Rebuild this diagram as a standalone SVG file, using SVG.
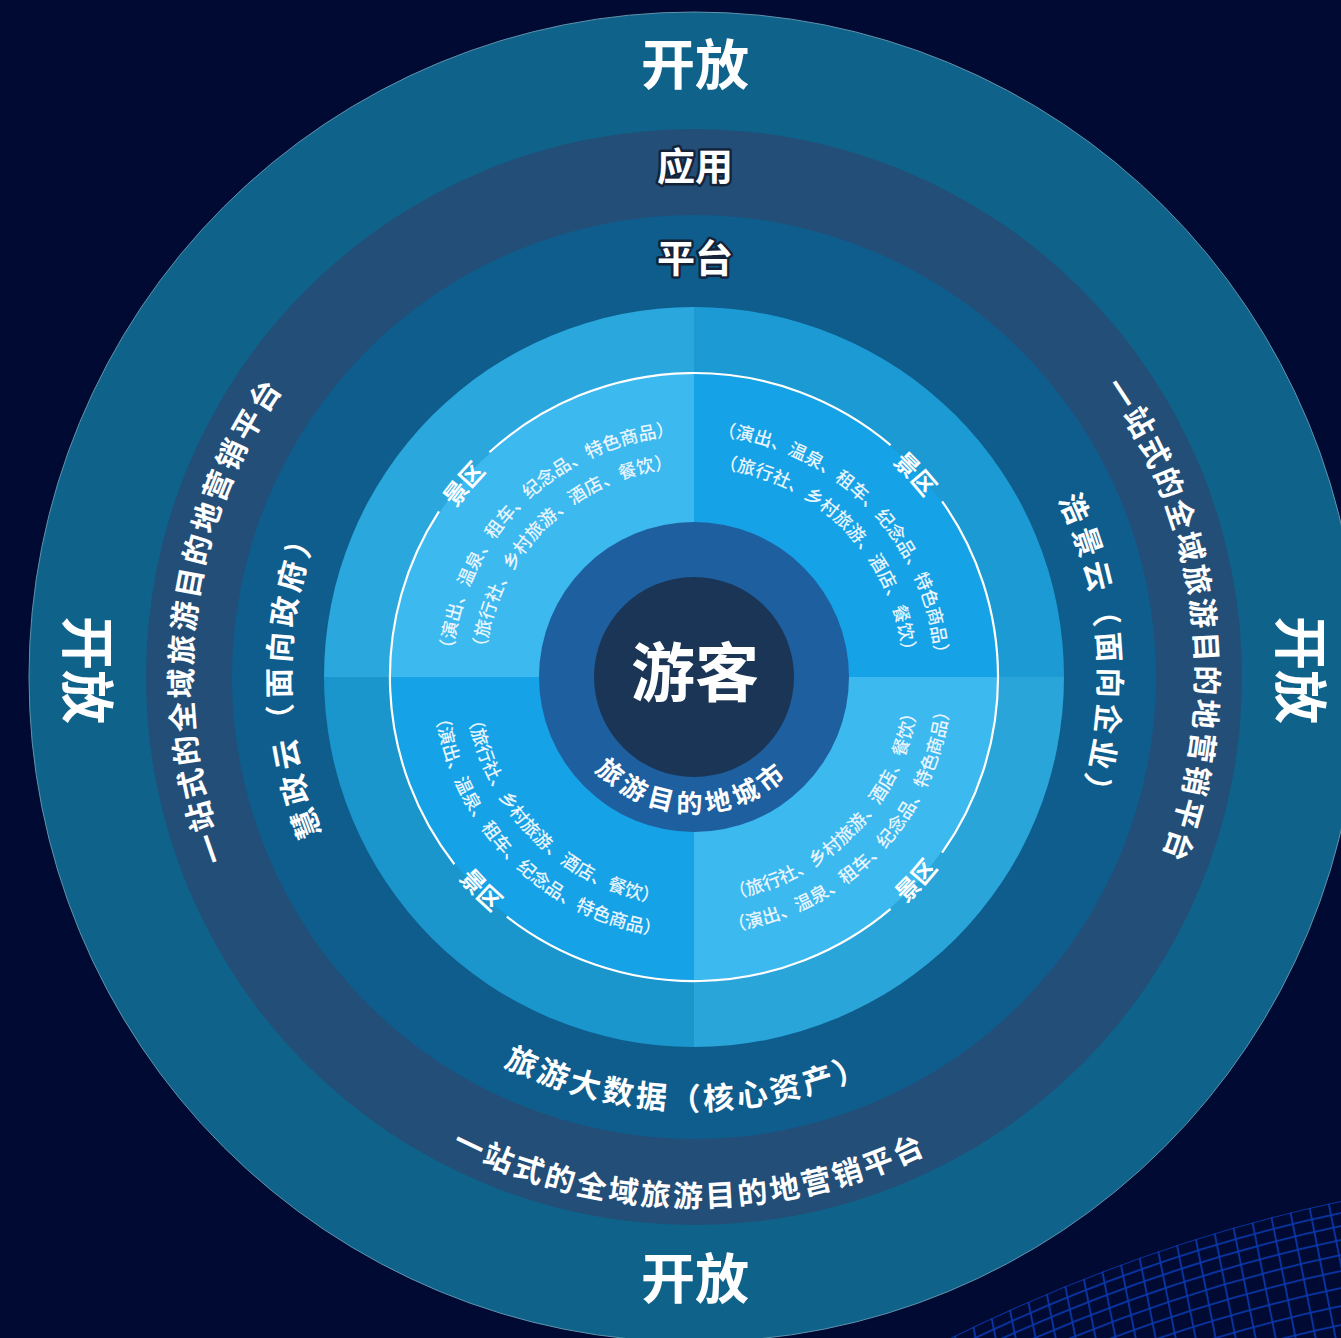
<svg xmlns="http://www.w3.org/2000/svg" width="1341" height="1338" viewBox="0 0 1341 1338">
<style>
.t{font-family:"Noto Sans CJK SC","Noto Sans",sans-serif;fill:#fff;font-weight:700;}
.big{font-size:54px;}
.lbl{font-size:38px;stroke:#14233a;stroke-width:5px;paint-order:stroke;stroke-linejoin:round;}
.ring{font-size:30px;letter-spacing:3px;}
.plat{font-size:30px;letter-spacing:5px;}
.data{font-size:31px;letter-spacing:3.5px;}
.q{font-size:18px;font-weight:500;fill:#e8f5ff;}
.jq{font-size:24px;}
.city{font-size:26px;letter-spacing:5px;}
.grid{fill:none;stroke:#0a3aae;stroke-width:2;stroke-opacity:0.85;}
</style>
<defs>
<path id="pL1" d="M391.9 1077.9 A502 502 0 0 1 497.9 214.9"/>
<path id="pR1" d="M890.1 214.9 A502 502 0 0 1 996.1 1077.9"/>
<path id="pB1" d="M232.7 938 A530 530 0 0 0 1150.6 946"/>
<path id="pL2" d="M495.1 1028.6 A404 404 0 0 1 489 328.9"/>
<path id="pR2" d="M872.8 313.6 A405 405 0 0 1 919.3 1013.6"/>
<path id="pB2" d="M315.3 886.9 A433 433 0 0 0 1065.2 900"/>
<path id="pTLo" d="M460.2 739.6 A242 242 0 0 1 756.6 443.2"/>
<path id="pTLi" d="M491.2 731.3 A210 210 0 0 1 748.3 474.2"/>
<path id="pTRo" d="M635.5 442.2 A242 242 0 0 1 926.6 743.7"/>
<path id="pTRi" d="M643.2 473.2 A210 210 0 0 1 895.9 734.9"/>
<path id="pBLo" d="M441.9 609.5 A261 261 0 0 0 761.5 929.1"/>
<path id="pBLi" d="M472.8 617.7 A229 229 0 0 0 753.3 898.2"/>
<path id="pBRo" d="M631.8 926.4 A257 257 0 0 0 941.1 606.2"/>
<path id="pBRi" d="M639.6 895.3 A225 225 0 0 0 910.3 615"/>
<path id="pJ1" d="M419.6 776.9 A292 292 0 0 1 744.7 389.4"/>
<path id="pJ2" d="M630.8 391.9 A292 292 0 0 1 972.5 764.8"/>
<path id="pJ3" d="M394.6 596.8 A310 310 0 0 0 774.2 976.4"/>
<path id="pJ4" d="M626.9 979.7 A310 310 0 0 0 989.6 583.8"/>
<path id="pCity" d="M575.1 742.9 A136 136 0 0 0 810.6 747"/>
<clipPath id="gridClip"><path d="M800 1420 Q1100 1240 1400 1190 L1400 1400 Z"/></clipPath>
</defs>

<rect id="background" x="0" y="0" width="1341" height="1338" fill="#010a33"/>

<g id="grid-decoration" clip-path="url(#gridClip)">
<g class="grid">
<path d="M800 1420 Q1100 1240 1400 1190"/>
<path d="M800 1432 Q1100 1252 1400 1202"/>
<path d="M800 1445 Q1100 1265 1400 1215"/>
<path d="M800 1459 Q1100 1279 1400 1229"/>
<path d="M800 1474 Q1100 1294 1400 1244"/>
<path d="M800 1490 Q1100 1310 1400 1260"/>
<path d="M800 1507 Q1100 1327 1400 1277"/>
<path d="M800 1525 Q1100 1345 1400 1295"/>
<path d="M800 1544 Q1100 1364 1400 1314"/>
<path d="M800 1564 Q1100 1384 1400 1334"/>
<path d="M900 1160 L940 1360"/>
<path d="M920 1160 L960 1360"/>
<path d="M940 1160 L980 1360"/>
<path d="M960 1160 L1000 1360"/>
<path d="M980 1160 L1020 1360"/>
<path d="M1000 1160 L1040 1360"/>
<path d="M1020 1160 L1060 1360"/>
<path d="M1040 1160 L1080 1360"/>
<path d="M1060 1160 L1100 1360"/>
<path d="M1080 1160 L1120 1360"/>
<path d="M1100 1160 L1140 1360"/>
<path d="M1120 1160 L1160 1360"/>
<path d="M1140 1160 L1180 1360"/>
<path d="M1160 1160 L1200 1360"/>
<path d="M1180 1160 L1220 1360"/>
<path d="M1200 1160 L1240 1360"/>
<path d="M1220 1160 L1260 1360"/>
<path d="M1240 1160 L1280 1360"/>
<path d="M1260 1160 L1300 1360"/>
<path d="M1280 1160 L1320 1360"/>
<path d="M1300 1160 L1340 1360"/>
<path d="M1320 1160 L1360 1360"/>
</g>
</g>

<g id="ring-open">
<circle cx="694" cy="677" r="665" fill="#0f6289" stroke="#5f93ad" stroke-width="1"/>
<text class="t big" x="695" y="84.5" text-anchor="middle">开放</text>
<text class="t big" x="695" y="1298.5" text-anchor="middle">开放</text>
<text class="t big" transform="translate(87 670) rotate(90)" x="0" y="20.5" text-anchor="middle">开放</text>
<text class="t big" transform="translate(1300 670) rotate(90)" x="0" y="20.5" text-anchor="middle">开放</text>
</g>

<g id="ring-application">
<circle cx="694" cy="677" r="548" fill="#234e77"/>
<text class="t lbl" x="695" y="179.5" text-anchor="middle">应用</text>
<text class="t ring"><textPath href="#pL1" startOffset="50%" text-anchor="middle">一站式的全域旅游目的地营销平台</textPath></text>
<text class="t ring"><textPath href="#pR1" startOffset="50%" text-anchor="middle">一站式的全域旅游目的地营销平台</textPath></text>
<text class="t ring"><textPath href="#pB1" startOffset="50%" text-anchor="middle">一站式的全域旅游目的地营销平台</textPath></text>
</g>

<g id="ring-platform">
<circle cx="694" cy="677" r="462" fill="#0f5d8d"/>
<text class="t lbl" x="695" y="272" text-anchor="middle">平台</text>
<text class="t plat"><textPath href="#pL2" startOffset="50%" text-anchor="middle">慧政云（面向政府）</textPath></text>
<text class="t plat"><textPath href="#pR2" startOffset="50%" text-anchor="middle">浩景云（面向企业）</textPath></text>
<text class="t data"><textPath href="#pB2" startOffset="50%" text-anchor="middle">旅游大数据（核心资产）</textPath></text>
</g>

<g id="quadrants">
<path d="M694 677 L324 677 A370 370 0 0 1 694 307 Z" fill="#2aa7dc"/>
<path d="M694 677 L694 307 A370 370 0 0 1 1064 677 Z" fill="#1c9ad3"/>
<path d="M694 677 L1064 677 A370 370 0 0 1 694 1047 Z" fill="#2aa5d9"/>
<path d="M694 677 L694 1047 A370 370 0 0 1 324 677 Z" fill="#1b96cd"/>
<path d="M694 677 L391 677 A303 303 0 0 1 694 374 Z" fill="#3cb9ef"/>
<path d="M694 677 L694 374 A303 303 0 0 1 997 677 Z" fill="#16a2e7"/>
<path d="M694 677 L997 677 A303 303 0 0 1 694 980 Z" fill="#3cb9ef"/>
<path d="M694 677 L694 980 A303 303 0 0 1 391 677 Z" fill="#16a2e7"/>
<g fill="none" stroke="#ffffff" stroke-width="2.2">
<path d="M489.4 452.2 A304 304 0 0 1 890.6 445.1"/>
<path d="M942.1 501.3 A304 304 0 0 1 942.1 852.7"/>
<path d="M890.6 908.9 A304 304 0 0 1 506.8 916.6"/>
<path d="M454.4 864.2 A304 304 0 0 1 439 511.4"/>
</g>
</g>

<g id="node-scenic-tl">
<text class="t jq"><textPath href="#pJ1" startOffset="50%" text-anchor="middle">景区</textPath></text>
<text class="t q"><textPath href="#pTLo" startOffset="50%" text-anchor="middle">（演出、温泉、租车、纪念品、特色商品）</textPath></text>
<text class="t q"><textPath href="#pTLi" startOffset="50%" text-anchor="middle">（旅行社、乡村旅游、酒店、餐饮）</textPath></text>
</g>
<g id="node-scenic-tr">
<text class="t jq"><textPath href="#pJ2" startOffset="50%" text-anchor="middle">景区</textPath></text>
<text class="t q"><textPath href="#pTRo" startOffset="50%" text-anchor="middle">（演出、温泉、租车、纪念品、特色商品）</textPath></text>
<text class="t q"><textPath href="#pTRi" startOffset="50%" text-anchor="middle">（旅行社、乡村旅游、酒店、餐饮）</textPath></text>
</g>
<g id="node-scenic-bl">
<text class="t jq"><textPath href="#pJ3" startOffset="50%" text-anchor="middle">景区</textPath></text>
<text class="t q"><textPath href="#pBLi" startOffset="50%" text-anchor="middle">（旅行社、乡村旅游、酒店、餐饮）</textPath></text>
<text class="t q"><textPath href="#pBLo" startOffset="50%" text-anchor="middle">（演出、温泉、租车、纪念品、特色商品）</textPath></text>
</g>
<g id="node-scenic-br">
<text class="t jq"><textPath href="#pJ4" startOffset="50%" text-anchor="middle">景区</textPath></text>
<text class="t q"><textPath href="#pBRi" startOffset="50%" text-anchor="middle">（旅行社、乡村旅游、酒店、餐饮）</textPath></text>
<text class="t q"><textPath href="#pBRo" startOffset="50%" text-anchor="middle">（演出、温泉、租车、纪念品、特色商品）</textPath></text>
</g>

<g id="node-center">
<circle cx="694" cy="677" r="155" fill="#1e5f9f"/>
<circle cx="694" cy="677" r="100" fill="#1a3556"/>
<text class="t" x="695" y="696" text-anchor="middle" font-size="64">游客</text>
<text class="t city"><textPath href="#pCity" startOffset="50%" text-anchor="middle">旅游目的地城市</textPath></text>
</g>

<g id="connectors"/>
</svg>
